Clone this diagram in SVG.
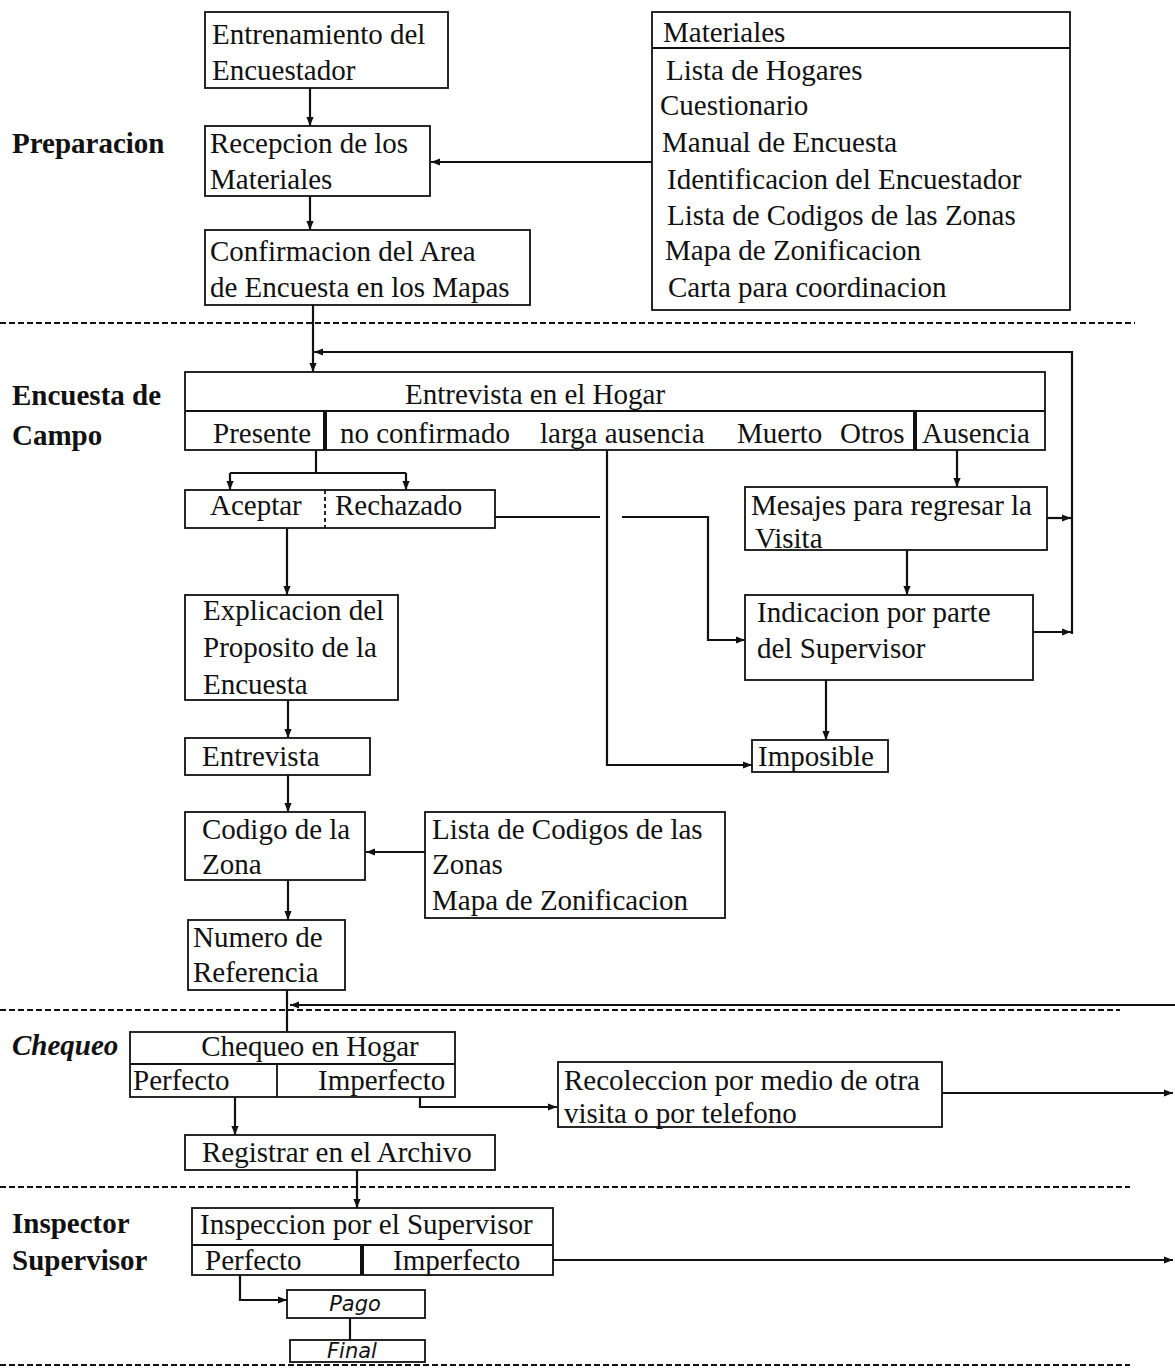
<svg xmlns="http://www.w3.org/2000/svg" width="1175" height="1370" viewBox="0 0 1175 1370">
<defs>
<style>
.b{fill:#fff;stroke:#111;stroke-width:1.8}
.t{font-family:"Liberation Serif","Times New Roman",serif;font-size:29px;fill:#111}
.lab{font-family:"Liberation Serif","Times New Roman",serif;font-size:29px;font-weight:bold;fill:#111}
.s{font-family:"DejaVu Sans",sans-serif;font-size:21px;font-style:italic;fill:#111}
.c{fill:none;stroke:#111;stroke-width:2.2}
.d{fill:none;stroke:#111;stroke-width:2.2;stroke-dasharray:6 3}
.dv{stroke:#111;stroke-width:1.8}
.tk{stroke:#111;stroke-width:4}
</style>
<marker id="a" viewBox="0 0 10 10" refX="10" refY="5" markerWidth="9" markerHeight="9" markerUnits="userSpaceOnUse" orient="auto"><path d="M0,1 L10,5 L0,9 z" fill="#111"/></marker>
</defs>
<rect width="1175" height="1370" fill="#fff"/>

<g id="separators">
<line class="d" x1="0" y1="323" x2="1135" y2="323"/>
<line class="d" x1="0" y1="1010" x2="1120" y2="1010"/>
<line class="d" x1="0" y1="1187" x2="1130" y2="1187"/>
<line class="d" x1="0" y1="1365" x2="1130" y2="1365"/>
</g>

<g id="labels">
<text class="lab" x="12" y="153">Preparacion</text>
<text class="lab" x="12" y="405">Encuesta de</text>
<text class="lab" x="12" y="445">Campo</text>
<text class="lab" x="12" y="1055" font-style="italic">Chequeo</text>
<text class="lab" x="12" y="1233">Inspector</text>
<text class="lab" x="12" y="1270">Supervisor</text>
</g>

<g id="connectors">
<path class="c" d="M310,88 V126" marker-end="url(#a)"/>
<path class="c" d="M310,196 V230" marker-end="url(#a)"/>
<path class="c" d="M313,305 V372" marker-end="url(#a)"/>
<path class="c" d="M652,162 H431" marker-end="url(#a)"/>
<path class="c" d="M1072,634 V352 H314" marker-end="url(#a)"/>
<path class="c" d="M1047,518 H1071" marker-end="url(#a)"/>
<path class="c" d="M1033,632 H1071" marker-end="url(#a)"/>
<path class="c" d="M316,450 V473"/>
<path class="c" d="M230,473 H406"/>
<path class="c" d="M230,473 V490" marker-end="url(#a)"/>
<path class="c" d="M406,473 V490" marker-end="url(#a)"/>
<path class="c" d="M495,517 H600"/>
<path class="c" d="M622,517 H708 V640 H745" marker-end="url(#a)"/>
<path class="c" d="M607,450 V765 H752" marker-end="url(#a)"/>
<path class="c" d="M957,450 V487" marker-end="url(#a)"/>
<path class="c" d="M907,550 V595" marker-end="url(#a)"/>
<path class="c" d="M826,680 V740" marker-end="url(#a)"/>
<path class="c" d="M287,528 V595" marker-end="url(#a)"/>
<path class="c" d="M288,700 V738" marker-end="url(#a)"/>
<path class="c" d="M288,775 V812" marker-end="url(#a)"/>
<path class="c" d="M425,852 H366" marker-end="url(#a)"/>
<path class="c" d="M288,880 V920" marker-end="url(#a)"/>
<path class="c" d="M287,990 V1032"/>
<path class="c" d="M1175,1005 H290" marker-end="url(#a)"/>
<path class="c" d="M235,1097 V1135" marker-end="url(#a)"/>
<path class="c" d="M420,1097 V1107 H557" marker-end="url(#a)"/>
<path class="c" d="M942,1093 H1173" marker-end="url(#a)"/>
<path class="c" d="M357,1170 V1208" marker-end="url(#a)"/>
<path class="c" d="M240,1275 V1300 H287" marker-end="url(#a)"/>
<path class="c" d="M553,1260 H1173" marker-end="url(#a)"/>
<path class="c" d="M350,1318 V1340"/>
</g>

<g id="n-entrenamiento">
<rect class="b" x="205" y="12" width="243" height="76"/>
<text class="t" x="212" y="44">Entrenamiento del</text>
<text class="t" x="212" y="80">Encuestador</text>
</g>
<g id="n-recepcion">
<rect class="b" x="205" y="126" width="225" height="70"/>
<text class="t" x="210" y="153">Recepcion de los</text>
<text class="t" x="210" y="189">Materiales</text>
</g>
<g id="n-confirmacion">
<rect class="b" x="205" y="230" width="325" height="75"/>
<text class="t" x="210" y="261">Confirmacion del Area</text>
<text class="t" x="210" y="297">de Encuesta en los Mapas</text>
</g>
<g id="n-materiales">
<rect class="b" x="652" y="12" width="418" height="298"/>
<line class="dv" x1="652" y1="48" x2="1070" y2="48"/>
<text class="t" x="663" y="42">Materiales</text>
<text class="t" x="666" y="80">Lista de Hogares</text>
<text class="t" x="660" y="115">Cuestionario</text>
<text class="t" x="662" y="152">Manual de Encuesta</text>
<text class="t" x="667" y="189">Identificacion del Encuestador</text>
<text class="t" x="667" y="225">Lista de Codigos de las Zonas</text>
<text class="t" x="665" y="260">Mapa de Zonificacion</text>
<text class="t" x="668" y="297">Carta para coordinacion</text>
</g>
<g id="n-entrevista-hogar">
<rect class="b" x="185" y="372" width="860" height="78"/>
<line class="dv" x1="185" y1="411" x2="1045" y2="411"/>
<line class="tk" x1="325" y1="411" x2="325" y2="450"/>
<line class="tk" x1="915" y1="411" x2="915" y2="450"/>
<text class="t" x="535" y="404" text-anchor="middle">Entrevista en el Hogar</text>
<text class="t" x="213" y="443">Presente</text>
<text class="t" x="340" y="443">no confirmado</text>
<text class="t" x="540" y="443">larga ausencia</text>
<text class="t" x="737" y="443">Muerto</text>
<text class="t" x="840" y="443">Otros</text>
<text class="t" x="922" y="443">Ausencia</text>
</g>
<g id="n-aceptar-rechazado">
<rect class="b" x="185" y="490" width="310" height="38"/>
<line class="dv" x1="325" y1="490" x2="325" y2="528" stroke-dasharray="4 3"/>
<text class="t" x="210" y="515">Aceptar</text>
<text class="t" x="335" y="515">Rechazado</text>
</g>
<g id="n-mesajes">
<rect class="b" x="745" y="487" width="302" height="63"/>
<text class="t" x="751" y="515">Mesajes para regresar la</text>
<text class="t" x="755" y="548">Visita</text>
</g>
<g id="n-indicacion">
<rect class="b" x="745" y="595" width="288" height="85"/>
<text class="t" x="757" y="622">Indicacion por parte</text>
<text class="t" x="757" y="658">del Supervisor</text>
</g>
<g id="n-imposible">
<rect class="b" x="752" y="740" width="136" height="32"/>
<text class="t" x="758" y="766">Imposible</text>
</g>
<g id="n-explicacion">
<rect class="b" x="185" y="595" width="213" height="105"/>
<text class="t" x="203" y="620">Explicacion del</text>
<text class="t" x="203" y="657">Proposito de la</text>
<text class="t" x="203" y="694">Encuesta</text>
</g>
<g id="n-entrevista">
<rect class="b" x="185" y="738" width="185" height="37"/>
<text class="t" x="202" y="766">Entrevista</text>
</g>
<g id="n-codigo">
<rect class="b" x="185" y="812" width="180" height="68"/>
<text class="t" x="202" y="839">Codigo de la</text>
<text class="t" x="202" y="874">Zona</text>
</g>
<g id="n-lista">
<rect class="b" x="425" y="812" width="300" height="106"/>
<text class="t" x="432" y="839">Lista de Codigos de las</text>
<text class="t" x="432" y="874">Zonas</text>
<text class="t" x="432" y="910">Mapa de Zonificacion</text>
</g>
<g id="n-numero">
<rect class="b" x="188" y="920" width="157" height="70"/>
<text class="t" x="193" y="947">Numero de</text>
<text class="t" x="193" y="982">Referencia</text>
</g>
<g id="n-chequeo">
<rect class="b" x="130" y="1032" width="325" height="65"/>
<line class="dv" x1="130" y1="1064" x2="455" y2="1064"/>
<line class="dv" x1="277" y1="1064" x2="277" y2="1097" stroke-width="3"/>
<text class="t" x="310" y="1056" text-anchor="middle">Chequeo en Hogar</text>
<text class="t" x="133" y="1090">Perfecto</text>
<text class="t" x="318" y="1090">Imperfecto</text>
</g>
<g id="n-recoleccion">
<rect class="b" x="558" y="1062" width="384" height="65"/>
<text class="t" x="564" y="1090">Recoleccion por medio de otra</text>
<text class="t" x="564" y="1123">visita o por telefono</text>
</g>
<g id="n-registrar">
<rect class="b" x="185" y="1135" width="310" height="35"/>
<text class="t" x="202" y="1162">Registrar en el Archivo</text>
</g>
<g id="n-inspeccion">
<rect class="b" x="192" y="1208" width="361" height="67"/>
<line class="dv" x1="192" y1="1245" x2="553" y2="1245"/>
<line class="tk" x1="362" y1="1245" x2="362" y2="1275"/>
<text class="t" x="200" y="1234">Inspeccion por el Supervisor</text>
<text class="t" x="205" y="1270">Perfecto</text>
<text class="t" x="393" y="1270">Imperfecto</text>
</g>
<g id="n-pago">
<rect class="b" x="287" y="1290" width="138" height="28"/>
<text class="s" x="355" y="1311" text-anchor="middle">Pago</text>
</g>
<g id="n-final">
<rect class="b" x="290" y="1340" width="135" height="22"/>
<text class="s" x="352" y="1358" text-anchor="middle" font-size="19">Final</text>
</g>
</svg>
